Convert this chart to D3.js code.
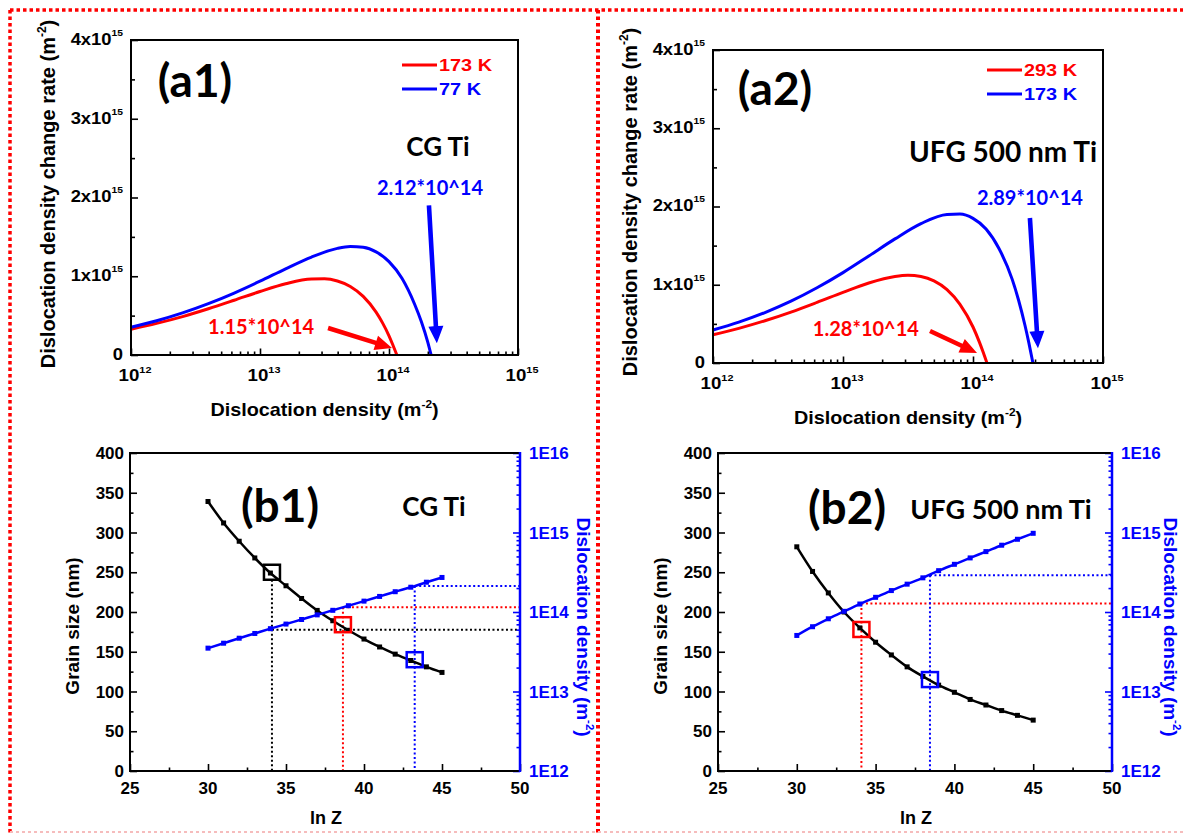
<!DOCTYPE html>
<html>
<head>
<meta charset="utf-8">
<script src="https://cdn.jsdelivr.net/npm/d3@7"></script>
<style>
  body { margin: 0; background: #fff; }
  svg { display: block; }
</style>
</head>
<body>
<svg id="fig" width="1183" height="835"></svg>
<script>
// ---------------- values ----------------
// (a1) CG Ti: dislocation density change rate vs dislocation density
const cg173Density = [1.00e12, 1.58e12, 2.51e12, 3.98e12, 6.31e12, 1.00e13, 1.58e13, 2.51e13, 3.16e13, 3.98e13, 5.01e13, 6.31e13, 7.94e13, 8.91e13, 1.00e14, 1.07e14, 1.15e14];
const cg173Rate    = [3.28e14, 4.02e14, 4.88e14, 5.87e14, 6.95e14, 8.06e14, 9.05e14, 9.65e14, 9.67e14, 9.39e14, 8.70e14, 7.44e14, 5.44e14, 4.08e14, 2.44e14, 1.30e14, 0];
const cg77Density  = [1.00e12, 1.58e12, 2.51e12, 3.98e12, 6.31e12, 1.00e13, 1.58e13, 2.51e13, 3.98e13, 5.01e13, 6.31e13, 7.94e13, 1.00e14, 1.26e14, 1.58e14, 1.78e14, 2.00e14, 2.12e14];
const cg77Rate     = [3.53e14, 4.35e14, 5.35e14, 6.52e14, 7.87e14, 9.37e14, 1.095e15, 1.244e15, 1.354e15, 1.377e15, 1.367e15, 1.309e15, 1.186e15, 9.74e14, 6.45e14, 4.25e14, 1.60e14, 0];

// (a2) UFG 500 nm Ti
const ufg293Density = [1.00e12, 1.58e12, 2.51e12, 3.98e12, 6.31e12, 1.00e13, 1.58e13, 2.51e13, 3.16e13, 3.98e13, 5.01e13, 6.31e13, 7.94e13, 1.00e14, 1.12e14, 1.20e14, 1.28e14];
const ufg293Rate    = [3.61e14, 4.43e14, 5.40e14, 6.51e14, 7.74e14, 9.02e14, 1.022e15, 1.105e15, 1.120e15, 1.105e15, 1.049e15, 9.37e14, 7.49e14, 4.60e14, 2.67e14, 1.34e14, 0];
const ufg173Density = [1.00e12, 1.58e12, 2.51e12, 3.98e12, 6.31e12, 1.00e13, 1.58e13, 2.51e13, 3.98e13, 6.31e13, 7.94e13, 1.00e14, 1.26e14, 1.58e14, 2.00e14, 2.24e14, 2.51e14, 2.69e14, 2.89e14];
const ufg173Rate    = [4.22e14, 5.23e14, 6.45e14, 7.90e14, 9.61e14, 1.155e15, 1.368e15, 1.586e15, 1.781e15, 1.899e15, 1.903e15, 1.848e15, 1.712e15, 1.466e15, 1.072e15, 8.05e14, 4.82e14, 2.57e14, 0];

// (b1)/(b2) grain size and dislocation density vs ln Z
const lnZ        = [30, 31, 32, 33, 34, 35, 36, 37, 38, 39, 40, 41, 42, 43, 44, 45];
const cgGrain    = [339, 312, 289, 268, 249, 233, 217, 202, 189, 177, 166, 156, 147, 139, 131, 124];
const cgDensity  = [3.51e13, 4.05e13, 4.68e13, 5.37e13, 6.17e13, 7.05e13, 8.05e13, 9.20e13, 1.05e14, 1.20e14, 1.37e14, 1.57e14, 1.80e14, 2.05e14, 2.37e14, 2.72e14];
const ufgGrain   = [282, 251, 224, 200, 180, 162, 146, 131, 119, 108, 99, 90, 83, 76, 70, 64];
const ufgDensity = [5.07e13, 6.53e13, 8.22e13, 1.02e14, 1.26e14, 1.53e14, 1.86e14, 2.24e14, 2.69e14, 3.31e14, 3.98e14, 4.79e14, 5.75e14, 6.92e14, 8.22e14, 9.77e14];

// highlighted states: ln Z, grain size (nm), saturation dislocation density (m^-2)
const cgMarkLnZ     = [34.1, 38.65, 43.25];
const cgMarkGrain   = [250, 184, 140];
const cgMarkDensity = [6.0e13, 1.15e14, 2.12e14];
const ufgMarkLnZ     = [34.1, 38.45];
const ufgMarkGrain   = [178, 115];
const ufgMarkDensity = [1.28e14, 2.89e14];

// axis tick values
const rateTicks    = [0, 1e15, 2e15, 3e15, 4e15];
const rateMinor    = [0.5e15, 1.5e15, 2.5e15, 3.5e15];
const densityTicks = [1e12, 1e13, 1e14, 1e15];
const lnZTicks     = [25, 30, 35, 40, 45, 50];
const lnZMinor     = [27.5, 32.5, 37.5, 42.5, 47.5];
const grainTicks   = [0, 50, 100, 150, 200, 250, 300, 350, 400];
const grainMinor   = [25, 75, 125, 175, 225, 275, 325, 375];
const rightTicks   = [1e12, 1e13, 1e14, 1e15, 1e16];
const rightLabels  = ['1E12', '1E13', '1E14', '1E15', '1E16'];

// ---------------- drawing ----------------
const RED = '#ff0000', BLUE = '#0000ff', BLK = '#000';
const ARIAL = "'Liberation Sans', Arial, sans-serif";
const SANS = "Lato, 'Open Sans', sans-serif";
const svg = d3.select('#fig');

// text with optional superscript segments: segs = ['10', {sup:'12'}]
function txt(g, x, y, segs, o = {}) {
  const size = o.size || 16;
  let tr = `translate(${x},${y})`;
  if (o.rot) tr += ` rotate(${o.rot})`;
  if (o.sx && o.sx !== 1) tr += ` scale(${o.sx},1)`;
  const t = g.append('text').attr('transform', tr)
    .attr('y', 0.36 * size)
    .attr('text-anchor', o.anchor || 'middle')
    .style('font-family', o.font || ARIAL)
    .style('font-weight', o.weight || 700)
    .style('font-size', size + 'px')
    .attr('fill', o.color || BLK);
  let shift = 0;
  (Array.isArray(segs) ? segs : [segs]).forEach(sg => {
    if (typeof sg === 'string') {
      t.append('tspan').attr('dy', shift).text(sg);
      shift = 0;
    } else {
      const rise = (o.rise || 0.45) * size;
      t.append('tspan').attr('dy', -rise + shift)
        .style('font-size', (o.supSize || 0.6) * size + 'px').text(sg.sup);
      shift = rise;
    }
  });
  return t;
}

function tickSet(g, axisFn, scale, values, size, tx, ty, color, width) {
  g.append('g').attr('transform', `translate(${tx},${ty})`)
    .call(axisFn(scale).tickValues(values).tickSize(size).tickFormat(''))
    .call(s => {
      s.select('.domain').remove();
      s.selectAll('line').attr('stroke', color).attr('stroke-width', width || 1.6);
    });
}

function arrow(g, x1, y1, x2, y2, color, shaft, headLen, headHalf) {
  const dx = x2 - x1, dy = y2 - y1, L = Math.hypot(dx, dy);
  const ux = dx / L, uy = dy / L, nx = -uy, ny = ux;
  const bx = x2 - ux * headLen, by = y2 - uy * headLen;
  const pts = [
    [x1 + nx * shaft, y1 + ny * shaft], [bx + nx * shaft, by + ny * shaft],
    [bx + nx * headHalf, by + ny * headHalf], [x2, y2],
    [bx - nx * headHalf, by - ny * headHalf], [bx - nx * shaft, by - ny * shaft],
    [x1 - nx * shaft, y1 - ny * shaft]
  ];
  g.append('path').attr('d', 'M' + pts.map(p => p.join(',')).join('L') + 'Z').attr('fill', color);
}

// ----- panels (a1)/(a2): change rate vs dislocation density -----
function ratePanel(p) {
  const g = svg.append('g');
  const x = d3.scaleLog().domain([1e12, 1e15]).range([p.left, p.right]);
  const y = d3.scaleLinear().domain([0, 4e15]).range([p.bottom, p.top]);
  const line = d3.line().x(d => x(d[0])).y(d => y(d[1])).curve(d3.curveMonotoneX);

  p.series.forEach(s => {
    g.append('path').datum(d3.zip(s.density, s.rate)).attr('d', line)
      .attr('fill', 'none').attr('stroke', s.color).attr('stroke-width', 3)
      .attr('stroke-linejoin', 'round');
  });

  // ticks (inward)
  const minorX = x.ticks().filter(v => Math.abs(Math.log10(v) - Math.round(Math.log10(v))) > 1e-6);
  tickSet(g, d3.axisBottom, x, minorX, -3.5, 0, p.bottom, BLK);
  tickSet(g, d3.axisBottom, x, densityTicks, -6.5, 0, p.bottom, BLK);
  tickSet(g, d3.axisLeft, y, rateMinor, -4, p.left, 0, BLK);
  tickSet(g, d3.axisLeft, y, rateTicks, -7, p.left, 0, BLK);

  g.append('rect').attr('x', p.left).attr('y', p.top)
    .attr('width', p.right - p.left).attr('height', p.bottom - p.top)
    .attr('fill', 'none').attr('stroke', BLK).attr('stroke-width', 2);

  // tick labels
  densityTicks.forEach(v => {
    txt(g, x(v) + 4, p.bottom + 20, ['10', { sup: String(Math.round(Math.log10(v))) }],
      { size: 17, sx: 1.1, supSize: 0.58, rise: 0.5 });
  });
  rateTicks.forEach(v => {
    const k = Math.round(v / 1e15);
    txt(g, p.left - 8, y(v) - 1, k === 0 ? '0' : [`${k}x10`, { sup: '15' }],
      { size: 16, sx: 1.15, anchor: 'end', supSize: 0.56, rise: 0.55 });
  });

  // axis titles
  txt(g, (p.left + p.right) / 2, p.bottom + 55, ['Dislocation density (m', { sup: '-2' }, ')'],
    { size: 18, sx: 1.1 });
  txt(g, p.left - 83, p.yTitleY, ['Dislocation density change rate (m', { sup: '-2' }, ')'],
    { size: 20, rot: -90 });

  // legend
  p.series.forEach((s, i) => {
    const ly = p.top + p.legendDy + i * 24;
    g.append('line').attr('x1', p.right - 116).attr('x2', p.right - 81)
      .attr('y1', ly).attr('y2', ly).attr('stroke', s.color).attr('stroke-width', 3);
    txt(g, p.right - 79, ly, s.name, { size: 17, sx: 1.17, anchor: 'start', color: s.color });
  });

  // panel tag and sample name
  txt(g, p.tagX, p.tagY, p.tag, { font: SANS, size: 46, weight: 700 });
  txt(g, p.nameX, p.nameY, p.name, { font: SANS, size: p.nameSize, weight: 700 });

  // saturation annotations
  p.notes.forEach(n => {
    txt(g, x(n.at[0]), y(n.at[1]), n.text, { font: SANS, size: 20, weight: 700, color: n.color });
    arrow(g, x(n.from[0]), y(n.from[1]), x(n.to[0]), y(n.to[1]), n.color, 2.3, 17, 7.5);
  });
}

// ----- panels (b1)/(b2): grain size and dislocation density vs ln Z -----
function grainPanel(p) {
  const g = svg.append('g');
  const x = d3.scaleLinear().domain([25, 50]).range([p.left, p.right]);
  const yG = d3.scaleLinear().domain([0, 400]).range([p.bottom, p.top]);
  const yD = d3.scaleLog().domain([1e12, 1e16]).range([p.bottom, p.top]);
  const colors = [BLK, RED, BLUE];
  const markColors = p.markColors.map(c => colors[c]);

  // dotted guides
  p.markLnZ.forEach((z, i) => {
    const gx = x(z), hy = yD(p.markDensity[i]), sy = yG(p.markGrain[i]);
    const y0 = hy < sy ? hy : sy + 7.5;
    const c = markColors[i];
    g.append('line').attr('x1', gx).attr('x2', gx).attr('y1', y0).attr('y2', p.bottom)
      .attr('stroke', c).attr('stroke-width', 2).attr('stroke-dasharray', '2,2.5');
    g.append('line').attr('x1', gx).attr('x2', p.right).attr('y1', hy).attr('y2', hy)
      .attr('stroke', c).attr('stroke-width', 2).attr('stroke-dasharray', '2,2.5');
  });

  // curves with point markers
  const lg = d3.line().x((d, i) => x(lnZ[i])).y(d => yG(d)).curve(d3.curveMonotoneX);
  const ld = d3.line().x((d, i) => x(lnZ[i])).y(d => yD(d)).curve(d3.curveMonotoneX);
  g.append('path').datum(p.grain).attr('d', lg).attr('fill', 'none').attr('stroke', BLK).attr('stroke-width', 2.5);
  g.append('path').datum(p.density).attr('d', ld).attr('fill', 'none').attr('stroke', BLUE).attr('stroke-width', 2.5);
  g.selectAll(null).data(p.grain).join('rect')
    .attr('x', (d, i) => x(lnZ[i]) - 2.5).attr('y', d => yG(d) - 2.5)
    .attr('width', 5).attr('height', 5).attr('fill', BLK);
  g.selectAll(null).data(p.density).join('rect')
    .attr('x', (d, i) => x(lnZ[i]) - 2.5).attr('y', d => yD(d) - 2.5)
    .attr('width', 5).attr('height', 5).attr('fill', BLUE);

  // open squares on the grain-size curve
  p.markLnZ.forEach((z, i) => {
    g.append('rect').attr('x', x(z) - 8).attr('y', yG(p.markGrain[i]) - 7.5)
      .attr('width', 16).attr('height', 15).attr('fill', 'none')
      .attr('stroke', markColors[i]).attr('stroke-width', 2.5);
  });

  // axes
  tickSet(g, d3.axisBottom, x, lnZMinor, -3.5, 0, p.bottom, BLK);
  tickSet(g, d3.axisBottom, x, lnZTicks, -7, 0, p.bottom, BLK);
  tickSet(g, d3.axisLeft, yG, grainMinor, -3.5, p.left, 0, BLK);
  tickSet(g, d3.axisLeft, yG, grainTicks, -7, p.left, 0, BLK);
  const minorD = yD.ticks().filter(v => Math.abs(Math.log10(v) - Math.round(Math.log10(v))) > 1e-6);
  tickSet(g, d3.axisRight, yD, minorD, -3.5, p.right, 0, BLUE);
  tickSet(g, d3.axisRight, yD, rightTicks, -7, p.right, 0, BLUE);

  g.append('path').attr('d', `M${p.right},${p.top}H${p.left}V${p.bottom}H${p.right}`)
    .attr('fill', 'none').attr('stroke', BLK).attr('stroke-width', 2);
  g.append('line').attr('x1', p.right).attr('x2', p.right).attr('y1', p.top - 1).attr('y2', p.bottom + 1)
    .attr('stroke', BLUE).attr('stroke-width', 2.5);

  // tick labels
  lnZTicks.forEach(v => txt(g, x(v), p.bottom + 17, String(v), { size: 17 }));
  grainTicks.forEach(v => txt(g, p.left - 6, yG(v), String(v), { size: 17, anchor: 'end' }));
  rightTicks.forEach((v, i) => txt(g, p.right + 9, yD(v), rightLabels[i], { size: 17, anchor: 'start', color: BLUE }));

  // axis titles
  txt(g, (p.left + p.right) / 2 + 1, p.bottom + 47, 'ln Z', { size: 18 });
  txt(g, p.left - 58, (p.top + p.bottom) / 2 + 14, 'Grain size (nm)', { size: 19, rot: -90 });
  txt(g, p.right + p.rTitleDx, (p.top + p.bottom) / 2 + 15, ['Dislocation density (m', { sup: '-2' }, ')'],
    { size: 19, rot: 90, color: BLUE });

  txt(g, p.tagX, p.tagY, p.tag, { font: SANS, size: 46, weight: 700 });
  txt(g, p.nameX, p.nameY, p.name, { font: SANS, size: p.nameSize, weight: 700 });
}

ratePanel({
  left: 131, right: 518, top: 40, bottom: 355, yTitleY: 194, legendDy: 25,
  tag: '(a1)', tagX: 195, tagY: 80, name: 'CG Ti', nameX: 438, nameY: 147, nameSize: 26,
  series: [
    { name: '173 K', color: RED, density: cg173Density, rate: cg173Rate },
    { name: '77 K', color: BLUE, density: cg77Density, rate: cg77Rate }
  ],
  notes: [
    { text: '2.12*10^14', color: BLUE, at: [2.08e14, 2.12e15], from: [2.04e14, 1.90e15], to: [2.35e14, 0.15e15] },
    { text: '1.15*10^14', color: RED, at: [1.02e13, 0.356e15], from: [3.37e13, 0.343e15], to: [1.055e14, 0.089e15] }
  ]
});

ratePanel({
  left: 713, right: 1103, top: 50, bottom: 363, yTitleY: 202, legendDy: 20,
  tag: '(a2)', tagX: 775, tagY: 88, name: 'UFG 500 nm Ti', nameX: 1003, nameY: 152, nameSize: 28,
  series: [
    { name: '293 K', color: RED, density: ufg293Density, rate: ufg293Rate },
    { name: '173 K', color: BLUE, density: ufg173Density, rate: ufg173Rate }
  ],
  notes: [
    { text: '2.89*10^14', color: BLUE, at: [2.74e14, 2.11e15], from: [2.74e14, 1.853e15], to: [3.16e14, 0.19e15] },
    { text: '1.28*10^14', color: RED, at: [1.50e13, 0.435e15], from: [4.67e13, 0.409e15], to: [1.074e14, 0.128e15] }
  ]
});

grainPanel({
  left: 130, right: 520, top: 453, bottom: 771, rTitleDx: 64,
  grain: cgGrain, density: cgDensity,
  markLnZ: cgMarkLnZ, markGrain: cgMarkGrain, markDensity: cgMarkDensity, markColors: [0, 1, 2],
  tag: '(b1)', tagX: 280, tagY: 505, name: 'CG Ti', nameX: 434, nameY: 507, nameSize: 26
});

grainPanel({
  left: 718, right: 1112, top: 453, bottom: 771, rTitleDx: 59,
  grain: ufgGrain, density: ufgDensity,
  markLnZ: ufgMarkLnZ, markGrain: ufgMarkGrain, markDensity: ufgMarkDensity, markColors: [1, 2],
  tag: '(b2)', tagX: 847, tagY: 507, name: 'UFG 500 nm Ti', nameX: 1001, nameY: 509, nameSize: 27
});

// dotted frame dividing the four panels
const frame = svg.append('g').attr('fill', 'none');
frame.append('line').attr('x1', 10).attr('x2', 1183).attr('y1', 10).attr('y2', 10)
  .attr('stroke', RED).attr('stroke-width', 3.5).attr('stroke-dasharray', '3.5,3');
frame.append('line').attr('x1', 10).attr('x2', 10).attr('y1', 10).attr('y2', 835)
  .attr('stroke', RED).attr('stroke-width', 3.5).attr('stroke-dasharray', '3.5,3');
frame.append('line').attr('x1', 598).attr('x2', 598).attr('y1', 10).attr('y2', 835)
  .attr('stroke', RED).attr('stroke-width', 4).attr('stroke-dasharray', '3.5,3');
frame.append('line').attr('x1', 10).attr('x2', 1183).attr('y1', 832).attr('y2', 832)
  .attr('stroke', '#f6bcbc').attr('stroke-width', 2).attr('stroke-dasharray', '3,3');
</script>
</body>
</html>
